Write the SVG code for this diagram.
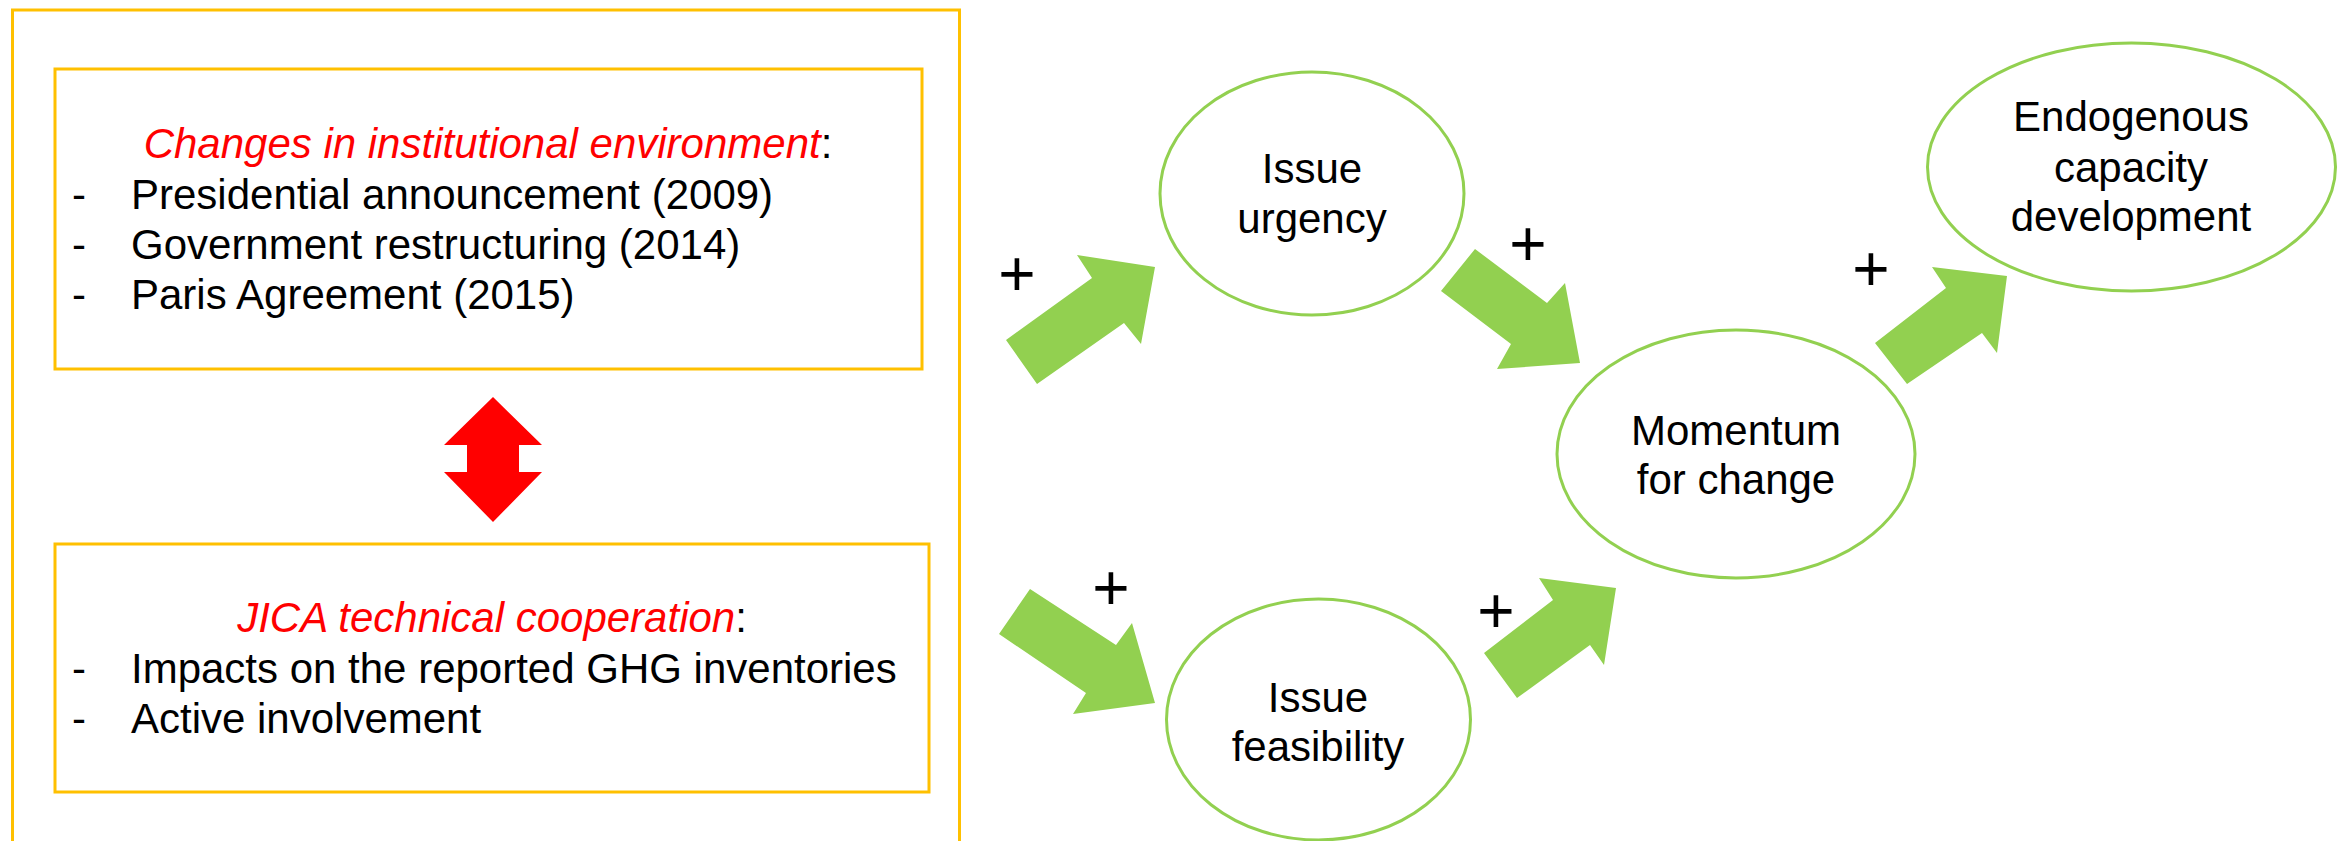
<svg xmlns="http://www.w3.org/2000/svg" width="2346" height="841" viewBox="0 0 2346 841">
<style>
  .box { fill: #FFFFFF; stroke: #FFC000; stroke-width: 3; }
  .t { font-family: "Liberation Sans", Arial, sans-serif; font-size: 42px; fill: #000000; }
  .red { fill: #FF0000; font-style: italic; }
  .node { fill: #FFFFFF; stroke: #92D050; stroke-width: 3; }
  .garrow { fill: #92D050; }
  .plus { font-family: "Liberation Sans", Arial, sans-serif; font-size: 64px; fill: #000000; text-anchor: middle; }
  .c { text-anchor: middle; }
</style>
<rect width="2346" height="841" fill="#FFFFFF"/>

<g id="outer-frame">
  <rect class="box" x="12.5" y="10" width="947" height="860"/>
</g>

<g id="box-institutional">
  <rect class="box" x="55" y="69" width="867" height="300"/>
  <text class="t c" x="488" y="158"><tspan class="red">Changes in institutional environment</tspan>:</text>
  <text class="t" x="72" y="209">-</text>
  <text class="t" x="131" y="209">Presidential announcement (2009)</text>
  <text class="t" x="72" y="259">-</text>
  <text class="t" x="131" y="259">Government restructuring (2014)</text>
  <text class="t" x="72" y="309">-</text>
  <text class="t" x="131" y="309">Paris Agreement (2015)</text>
</g>

<g id="box-jica">
  <rect class="box" x="55" y="544" width="874" height="248"/>
  <text class="t c" x="492" y="632"><tspan class="red">JICA technical cooperation</tspan>:</text>
  <text class="t" x="72" y="683">-</text>
  <text class="t" x="131" y="683">Impacts on the reported GHG inventories</text>
  <text class="t" x="72" y="733">-</text>
  <text class="t" x="131" y="733">Active involvement</text>
</g>

<g id="node-urgency">
  <ellipse class="node" cx="1312" cy="193.5" rx="152" ry="121.5"/>
  <text class="t c" x="1312" y="183">Issue</text>
  <text class="t c" x="1312" y="233">urgency</text>
</g>

<g id="node-feasibility">
  <ellipse class="node" cx="1318.5" cy="719.5" rx="152" ry="120.5"/>
  <text class="t c" x="1318" y="712">Issue</text>
  <text class="t c" x="1318" y="761">feasibility</text>
</g>

<g id="node-momentum">
  <ellipse class="node" cx="1736" cy="454" rx="179" ry="124"/>
  <text class="t c" x="1736" y="445">Momentum</text>
  <text class="t c" x="1736" y="494">for change</text>
</g>

<g id="node-endogenous">
  <ellipse class="node" cx="2131.5" cy="167" rx="204" ry="124"/>
  <text class="t c" x="2131" y="131">Endogenous</text>
  <text class="t c" x="2131" y="182">capacity</text>
  <text class="t c" x="2131" y="231">development</text>
</g>

<g id="connectors">
  <polygon fill="#FF0000" points="493,397 542,445 519,445 519,472 542,472 493,522 444,472 467,472 467,445 444,445"/>
  <polygon class="garrow" points="1006,340 1092,278 1077,255 1155,267 1141,344 1124,323 1037,384"/>
  <polygon class="garrow" points="1475,249 1547,303 1565,283 1580,363 1497,369 1511,344 1441,291"/>
  <polygon class="garrow" points="1875,343 1946,288 1932,267 2007,276 1997,353 1982,333 1907,384"/>
  <polygon class="garrow" points="1030,589 1116,645 1132,623 1155,703 1073,714 1086,693 999,634"/>
  <polygon class="garrow" points="1484,653 1553,600 1539,578 1616,588 1604,665 1590,645 1517,698"/>
  <text class="plus" x="1017" y="296">+</text>
  <text class="plus" x="1528" y="266">+</text>
  <text class="plus" x="1871" y="291">+</text>
  <text class="plus" x="1111" y="610">+</text>
  <text class="plus" x="1496" y="633">+</text>
</g>
</svg>
